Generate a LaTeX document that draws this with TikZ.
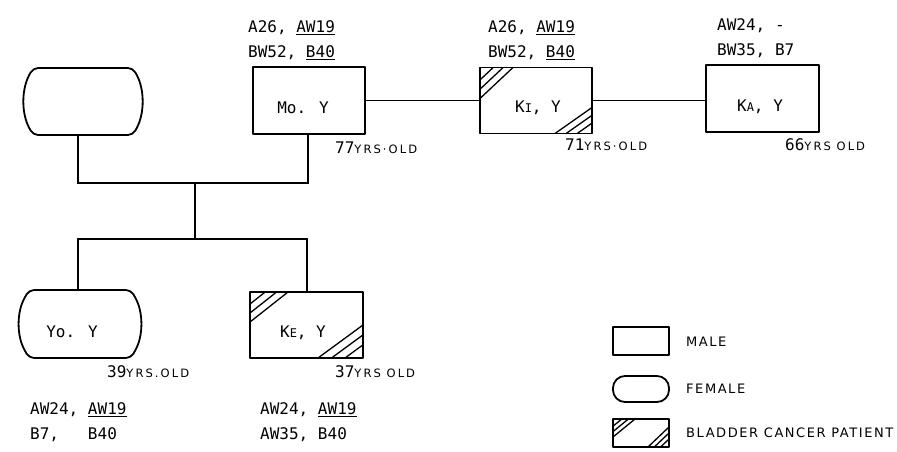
\documentclass[tikz,border=0pt]{standalone}
\usepackage{fontspec}
\usetikzlibrary{calc}
\newfontfamily\twfont{DejaVu Sans Mono}
\newfontfamily\agefont[LetterSpace=18]{DejaVu Sans}
\newfontfamily\legfont[LetterSpace=12]{DejaVu Sans}
\newcommand\femoutline[3]{%
  \draw[shapeline, rounded corners=5pt] ($(#1.north west)+(#2,0)$) -- ($(#1.north east)+(-#2,0)$)
    [rounded corners=#3] -- (#1.east) [rounded corners=5pt] -- ($(#1.south east)+(-#2,0)$)
    -- ($(#1.south west)+(#2,0)$) [rounded corners=#3] -- (#1.west) [rounded corners=5pt] -- cycle;}
\newcommand\hatchTL[3]{%
  \foreach \f in {0.4,0.7,1}{\draw[hatchline] ($(#1.north west)+(\f*#2,0)$) -- ($(#1.north west)+(0,\f*#3)$);}}
\newcommand\hatchBR[3]{%
  \foreach \f in {0.4,0.7,1}{\draw[hatchline] ($(#1.south east)+(-\f*#2,0)$) -- ($(#1.south east)+(0,-\f*#3)$);}}
\newcommand\smallcap[1]{{\fontsize{12}{12}\selectfont #1}}
\begin{document}
\begin{tikzpicture}[x=1pt,y=-1pt,
  shapeline/.style={line width=1.8pt, line join=round},
  malebox/.style={draw, shapeline, outer sep=0pt, inner sep=0pt},
  femalebox/.style={outer sep=0pt, inner sep=0pt},
  conn/.style={line width=1.8pt},
  hatchline/.style={line width=1.3pt},
  hla/.style={font=\twfont\fontsize{16}{25}\selectfont, inner sep=0pt, align=left, anchor=north west},
  pname/.style={font=\twfont\fontsize{16}{16}\selectfont, inner sep=0pt, anchor=base},
  age/.style={font=\twfont\fontsize{16}{16}\selectfont, inner sep=0pt, anchor=base west},
  legtext/.style={font=\legfont\fontsize{13}{14}\selectfont, inner sep=0pt, anchor=west},
]
\useasboundingbox (0,0) rectangle (897,452);
\fill[white] (0,0) rectangle (897,452);

% persons
\node[femalebox, minimum width=136pt, minimum height=67pt] (F1) at (83,101.5) {};
\femoutline{F1}{18}{30pt}
\node[malebox, minimum width=112pt, minimum height=67pt] (Mo) at (309,100.5) {};
\node[malebox, minimum width=112pt, minimum height=66pt] (Ki) at (536,100.5) {};
\node[malebox, minimum width=113pt, minimum height=67pt] (Ka) at (762.5,98.5) {};
\node[femalebox, minimum width=140pt, minimum height=68pt] (Yo) at (80,324) {};
\femoutline{Yo}{19}{30pt}
\node[malebox, minimum width=113pt, minimum height=66pt] (Ke) at (306.5,325) {};

% hatching
\hatchTL{Ki}{33}{31}
\hatchBR{Ki}{37}{26}
\hatchTL{Ke}{38}{30}
\hatchBR{Ke}{45}{33}

% names
\node[pname] (MoL) at (303,113) {Mo. Y};
\node[pname] (KiL) at (538,112) {K\smallcap{I}, Y};
\node[pname] (KaL) at (760,111) {K\smallcap{A}, Y};
\node[pname] (YoL) at (72,337) {Yo. Y};
\node[pname] (KeL) at (303,337) {K\smallcap{E}, Y};

% HLA types
\node[hla] (MoH) at (248,20) {A26, \underline{AW19}\\BW52, \underline{B40}};
\node[hla] (KiH) at (488,20) {A26, \underline{AW19}\\BW52, \underline{B40}};
\node[hla] (KaH) at (717,18) {AW24, -\\BW35, B7};
\node[hla] (YoH) at (30,402) {AW24, \underline{AW19}\\B7,\ \ \ B40};
\node[hla] (KeH) at (260,402) {AW24, \underline{AW19}\\AW35, B40};

% ages
\node[age] (MoA) at (335,153) {77{\agefont\fontsize{11.5}{11.5}\selectfont YRS·OLD}};
\node[age] (KiA) at (565,150) {71{\agefont\fontsize{11.5}{11.5}\selectfont YRS·OLD}};
\node[age] (KaA) at (785,150) {66{\agefont\fontsize{11.5}{11.5}\selectfont YRS OLD}};
\node[age] (YoA) at (107,377) {39{\agefont\fontsize{11.5}{11.5}\selectfont YRS.OLD}};
\node[age] (KeA) at (335,377) {37{\agefont\fontsize{11.5}{11.5}\selectfont YRS OLD}};

% connectors
\draw[conn] (Mo.east) -- (Ki.west);
\draw[conn] (Ki.east) -- (Ka.west |- Ki.east);
\coordinate (jl) at (78,183);
\coordinate (jr) at (308,183);
\coordinate (jm) at (195,183);
\coordinate (sm) at (195,239);
\coordinate (sl) at (78,239);
\coordinate (sr) at (307,239);
\draw[conn] (F1.south -| jl) -- (jl) -- (jr) -- (Mo.south -| jr);
\draw[conn] (jm) -- (sm);
\draw[conn] (Yo.north -| sl) -- (sl) -- (sr) -- (Ke.north -| sr);

% legend
\node[malebox, minimum width=56pt, minimum height=28pt] (LM) at (641,341) {};
\node[draw, shapeline, rounded corners=12pt, outer sep=0pt, minimum width=56pt, minimum height=26pt] (LF) at (641,389) {};
\node[malebox, minimum width=56pt, minimum height=28pt] (LB) at (641,433) {};
\hatchTL{LB}{22}{18}
\hatchBR{LB}{21}{20}
\node[legtext] (LMt) at (686,342) {MALE};
\node[legtext] (LFt) at (686,389) {FEMALE};
\node[legtext] (LBt) at (686,433) {BLADDER CANCER PATIENT};
\end{tikzpicture}
\end{document}
